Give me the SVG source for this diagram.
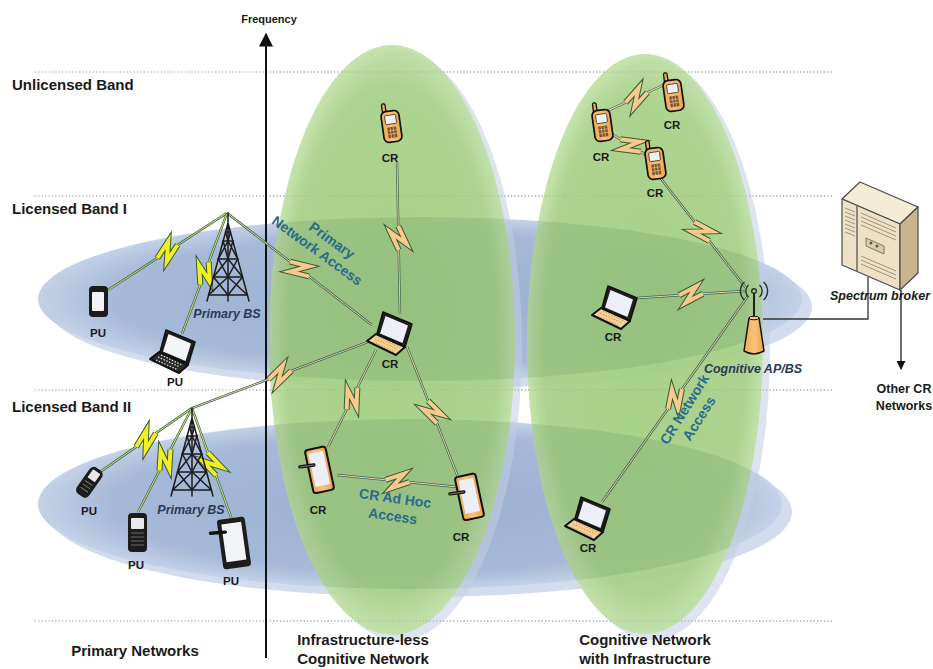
<svg xmlns="http://www.w3.org/2000/svg" xmlns:xlink="http://www.w3.org/1999/xlink" width="933" height="669" viewBox="0 0 933 669">
  <style>
    .lbl{font-family:"Liberation Sans",Arial,sans-serif;font-weight:bold;fill:#1a1a1a}
    .band{font-size:15px}
    .dev{font-size:11.5px;text-anchor:middle}
    .acc{font-size:14px;fill:#2b6a8e;text-anchor:middle}
    .ital{font-style:italic;font-size:12.5px;fill:#2b3a55}
    .foot{font-size:15px;text-anchor:middle}
    .dots{stroke:#a8a8a8;stroke-width:1.3;stroke-dasharray:1 2.4;fill:none}
    .w-out{fill:none;stroke:#3a6452;stroke-width:2.4;stroke-linejoin:miter}
    .w-y{fill:none;stroke:#e4ee6a;stroke-width:0.9;stroke-linejoin:miter}
    .w-c{fill:none;stroke:#f7d9a8;stroke-width:0.9;stroke-linejoin:miter}
    .b-out{fill:none;stroke:#3a5a3a;stroke-width:6;stroke-linejoin:miter;stroke-miterlimit:6}
    .b-y{fill:none;stroke:#f0f020;stroke-width:4;stroke-linejoin:miter;stroke-miterlimit:6}
    .b-c{fill:none;stroke:#f8c98c;stroke-width:4;stroke-linejoin:miter;stroke-miterlimit:6}
    .ink{stroke:#111;stroke-linejoin:round}
  </style>
  <defs>
    <radialGradient id="blueFill" cx="0.5" cy="0.5" r="0.5">
      <stop offset="0" stop-color="#9aafd2"/>
      <stop offset="0.8" stop-color="#a6b9d8"/>
      <stop offset="1" stop-color="#c4d1e7"/>
    </radialGradient>
    <radialGradient id="greenFill" cx="0.5" cy="0.5" r="0.5">
      <stop offset="0" stop-color="#a2cf7e"/>
      <stop offset="0.86" stop-color="#a7d285"/>
      <stop offset="1" stop-color="#bfe0a4"/>
    </radialGradient>
    <linearGradient id="orange" x1="0" y1="0" x2="1" y2="0">
      <stop offset="0" stop-color="#f3a94e"/>
      <stop offset="0.5" stop-color="#f9c37a"/>
      <stop offset="1" stop-color="#f0a245"/>
    </linearGradient>
    <clipPath id="greenClip">
      <ellipse cx="392" cy="340" rx="123" ry="295"/>
      <ellipse cx="645" cy="344" rx="118" ry="290"/>
    </clipPath>
    <marker id="arrow" viewBox="0 0 10 10" refX="9" refY="5" markerWidth="7" markerHeight="7" orient="auto">
      <path d="M0,0 L10,5 L0,10 Z" fill="#111"/>
    </marker>

    <!-- lightning bolts placed at link midpoints -->
    <g id="bolt-y"><path class="b-out" d="M-12,0 L6,-8 L-6,8 L12,0"/><path class="b-y" d="M-12,0 L6,-8 L-6,8 L12,0"/></g>
    <g id="bolt-c"><path class="b-out" d="M-12,0 L6,-8 L-6,8 L12,0"/><path class="b-c" d="M-12,0 L6,-8 L-6,8 L12,0"/></g>

    <!-- lattice tower, apex at origin -->
    <g id="tower" fill="none" stroke="#1b1b1b" stroke-width="1.5" stroke-linecap="round">
      <path d="M0,0 V12 M0,10 L-21,88 M0,10 L21,88 M0,10 V88"/>
      <path d="M-4.85,28 H4.85 M-9.7,46 H9.7 M-14.5,64 H14.5 M-19.4,82 H19.4"/>
      <path d="M-4.85,28 L0,46 M0,28 L-9.7,46 M4.85,28 L0,46 M0,28 L9.7,46"/>
      <path d="M-9.7,46 L0,64 M0,46 L-14.5,64 M9.7,46 L0,64 M0,46 L14.5,64"/>
      <path d="M-14.5,64 L0,82 M0,64 L-19.4,82 M14.5,64 L0,82 M0,64 L19.4,82"/>
      <path d="M-2.4,19 H2.4 M-2.4,19 L0,28 M2.4,19 L0,28"/>
    </g>

    <!-- cognitive radio laptop -->
    <g id="laptopCR">
      <path class="ink" d="M16,1 L45,13 L38,36 L10,23 Z" fill="#1e1e1e" stroke-width="1.6"/>
      <path d="M18.5,5 L41,14.5 L35.5,32 L13,22.5 Z" fill="#eceef8"/>
      <path class="ink" d="M9,23 L38,36 L29,44 L0,30 Z" fill="#f6cf93" stroke-width="2"/>
      <path d="M8,28 L30,38 M6,31 L27,40.5 M11,26 L32,36" stroke="#c99a5a" stroke-width="1" stroke-dasharray="1.5 1.5"/>
    </g>
    <!-- primary user laptop -->
    <g id="laptopPU">
      <path class="ink" d="M16,1 L45,13 L38,36 L10,23 Z" fill="#1e1e1e" stroke-width="1.6"/>
      <path d="M18.5,5 L41,14.5 L35.5,32 L13,22.5 Z" fill="#f4f5f8"/>
      <path class="ink" d="M9,23 L38,36 L29,44 L0,30 Z" fill="#2a2a2a" stroke-width="2"/>
      <path d="M8,28 L30,38 M6,31 L27,40.5 M11,26 L32,36" stroke="#e8e8e8" stroke-width="1.2" stroke-dasharray="1.5 1.5"/>
    </g>
    <!-- cognitive radio handset -->
    <g id="phoneCR">
      <rect class="ink" x="3" y="0" width="3.6" height="11" rx="1.5" fill="#f0ab55" stroke-width="1.3"/>
      <rect class="ink" x="1" y="8" width="18" height="31" rx="5" fill="url(#orange)" stroke-width="1.7"/>
      <rect x="4.5" y="12" width="11" height="9" rx="1" fill="#eef0f6" stroke="#333" stroke-width="0.8"/>
      <rect x="5.5" y="24" width="9" height="11" rx="1" fill="#7a5530"/>
      <path d="M5.5,27.5 H14.5 M5.5,31 H14.5 M8.5,24 V35 M11.5,24 V35" stroke="#e9b77a" stroke-width="0.7"/>
    </g>
    <!-- cognitive radio tablet with stylus -->
    <g id="tabletCR">
      <rect class="ink" x="9" y="0" width="21" height="44" rx="3" fill="url(#orange)" stroke-width="2"/>
      <rect x="12" y="4" width="15" height="34" fill="#eceef8"/>
      <path d="M1,15 L15,16" stroke="#111" stroke-width="3.4" stroke-linecap="round"/>
      <path d="M1,15 L15,16" stroke="#777" stroke-width="1" stroke-linecap="round"/>
    </g>
  </defs>

  <!-- band separators -->
  <g id="bands">
    <path class="dots" d="M35,72 H833 M35,196 H833 M35,390 H833 M35,621 H833"/>
  </g>

  <!-- licensed band coverage areas -->
  <g id="coverage-band1">
    <ellipse cx="430" cy="307" rx="382" ry="82" fill="#d2dcec"/>
    <ellipse cx="420" cy="299" rx="382" ry="82" fill="url(#blueFill)"/>
  </g>
  <g id="coverage-band2">
    <ellipse cx="420" cy="512" rx="372" ry="85" fill="#d2dcec"/>
    <ellipse cx="410" cy="504" rx="372" ry="85" fill="url(#blueFill)"/>
  </g>

  <!-- cognitive network areas -->
  <g id="area-adhoc">
    <ellipse cx="399" cy="346" rx="123" ry="295" fill="#c3cde2" opacity="0.55"/>
    <ellipse cx="392" cy="340" rx="123" ry="295" fill="url(#greenFill)" opacity="0.9"/>
  </g>
  <g id="area-infra">
    <ellipse cx="652" cy="350" rx="118" ry="290" fill="#c3cde2" opacity="0.55"/>
    <ellipse cx="645" cy="344" rx="118" ry="290" fill="url(#greenFill)" opacity="0.9"/>
  </g>
  <g clip-path="url(#greenClip)" opacity="0.11">
    <ellipse cx="420" cy="299" rx="382" ry="82" fill="#2f5f35"/>
    <ellipse cx="410" cy="504" rx="372" ry="85" fill="#2f5f35"/>
  </g>
  <path class="dots" d="M270,72 H833 M270,196 H833 M270,390 H833 M270,621 H833" opacity="0.55"/>

  <!-- frequency axis -->
  <g id="axis">
    <line x1="266" y1="658" x2="266" y2="34" stroke="#111" stroke-width="2" marker-end="url(#arrow)"/>
    <text class="lbl" x="269" y="23" font-size="11" text-anchor="middle">Frequency</text>
  </g>

  <!-- wireless links -->
  <g id="connectors">
    <!-- band I primary BS -->
    <g transform="translate(167.5,251.5) rotate(-32.9)"><path class="w-out" d="M-70.9,0 L-12,0 L6,-8 L-6,8 L12,0 L70.9,0"/><path class="w-y" d="M-70.9,0 L-12,0 L6,-8 L-6,8 L12,0 L70.9,0"/><use href="#bolt-y"/></g>
    <g transform="translate(204.5,273.5) rotate(-69.6)"><path class="w-out" d="M-64.5,0 L-12,0 L6,-8 L-6,8 L12,0 L64.5,0"/><path class="w-y" d="M-64.5,0 L-12,0 L6,-8 L-6,8 L12,0 L64.5,0"/><use href="#bolt-y"/></g>
    <g transform="translate(299.5,269) rotate(37.7)"><path class="w-out" d="M-91.6,0 L-12,0 L6,-8 L-6,8 L12,0 L91.6,0"/><path class="w-c" d="M-91.6,0 L-12,0 L6,-8 L-6,8 L12,0 L91.6,0"/><use href="#bolt-c"/></g>
    <!-- ad hoc cognitive network -->
    <g transform="translate(398.5,238) rotate(88.9)"><path class="w-out" d="M-76,0 L-12,0 L6,-8 L-6,8 L12,0 L76,0"/><path class="w-c" d="M-76,0 L-12,0 L6,-8 L-6,8 L12,0 L76,0"/><use href="#bolt-c"/></g>
    <g transform="translate(280,375) rotate(159.4)"><path class="w-out" d="M-94,0 L-12,0 L6,-8 L-6,8 L12,0 L94,0"/><path class="w-c" d="M-94,0 L-12,0 L6,-8 L-6,8 L12,0 L94,0"/><use href="#bolt-c"/></g>
    <g transform="translate(352,398.5) rotate(116.3)"><path class="w-out" d="M-54.1,0 L-12,0 L6,-8 L-6,8 L12,0 L54.1,0"/><path class="w-c" d="M-54.1,0 L-12,0 L6,-8 L-6,8 L12,0 L54.1,0"/><use href="#bolt-c"/></g>
    <g transform="translate(432.5,412) rotate(68.6)"><path class="w-out" d="M-69.8,0 L-12,0 L6,-8 L-6,8 L12,0 L69.8,0"/><path class="w-c" d="M-69.8,0 L-12,0 L6,-8 L-6,8 L12,0 L69.8,0"/><use href="#bolt-c"/></g>
    <g transform="translate(397.5,481) rotate(5.7)"><path class="w-out" d="M-60.8,0 L-12,0 L6,-8 L-6,8 L12,0 L60.8,0"/><path class="w-c" d="M-60.8,0 L-12,0 L6,-8 L-6,8 L12,0 L60.8,0"/><use href="#bolt-c"/></g>
    <!-- infrastructure cognitive network -->
    <g transform="translate(636.5,97.5) rotate(-24.7)"><path class="w-out" d="M-34.7,0 L-12,0 L6,-8 L-6,8 L12,0 L34.7,0"/><path class="w-c" d="M-34.7,0 L-12,0 L6,-8 L-6,8 L12,0 L34.7,0"/><use href="#bolt-c"/></g>
    <g transform="translate(630.5,145.5) rotate(31.4)"><path class="w-out" d="M-24,0 L-12,0 L6,-8 L-6,8 L12,0 L24,0"/><path class="w-c" d="M-24,0 L-12,0 L6,-8 L-6,8 L12,0 L24,0"/><use href="#bolt-c"/></g>
    <g transform="translate(702,231.5) rotate(52.1)"><path class="w-out" d="M-71.6,0 L-12,0 L6,-8 L-6,8 L12,0 L71.6,0"/><path class="w-c" d="M-71.6,0 L-12,0 L6,-8 L-6,8 L12,0 L71.6,0"/><use href="#bolt-c"/></g>
    <g transform="translate(691,294.5) rotate(-3.7)"><path class="w-out" d="M-54.1,0 L-12,0 L6,-8 L-6,8 L12,0 L54.1,0"/><path class="w-c" d="M-54.1,0 L-12,0 L6,-8 L-6,8 L12,0 L54.1,0"/><use href="#bolt-c"/></g>
    <g transform="translate(675,399) rotate(-54.7)"><path class="w-out" d="M-126.2,0 L-12,0 L6,-8 L-6,8 L12,0 L126.2,0"/><path class="w-c" d="M-126.2,0 L-12,0 L6,-8 L-6,8 L12,0 L126.2,0"/><use href="#bolt-c"/></g>
    <!-- band II primary BS -->
    <g transform="translate(146,440) rotate(-34.8)"><path class="w-out" d="M-56,0 L-12,0 L6,-8 L-6,8 L12,0 L56,0"/><path class="w-y" d="M-56,0 L-12,0 L6,-8 L-6,8 L12,0 L56,0"/><use href="#bolt-y"/></g>
    <g transform="translate(165,460) rotate(-62.6)"><path class="w-out" d="M-58.6,0 L-12,0 L6,-8 L-6,8 L12,0 L58.6,0"/><path class="w-y" d="M-58.6,0 L-12,0 L6,-8 L-6,8 L12,0 L58.6,0"/><use href="#bolt-y"/></g>
    <g transform="translate(212,464) rotate(-109.7)"><path class="w-out" d="M-59.5,0 L-12,0 L6,-8 L-6,8 L12,0 L59.5,0"/><path class="w-y" d="M-59.5,0 L-12,0 L6,-8 L-6,8 L12,0 L59.5,0"/><use href="#bolt-y"/></g>
    <!-- wired backhaul to spectrum broker -->
    <path d="M763,319 H868 V277" fill="none" stroke="#333" stroke-width="1.3"/>
    <path d="M901,290 V369" fill="none" stroke="#222" stroke-width="1.3" marker-end="url(#arrow)"/>
  </g>

  <!-- band labels -->
  <g id="band-labels">
    <text class="lbl band" x="12" y="90">Unlicensed Band</text>
    <text class="lbl band" x="12" y="214">Licensed Band I</text>
    <text class="lbl band" x="12" y="412">Licensed Band II</text>
  </g>

  <!-- primary network, band I -->
  <g id="primary-bs-1">
    <use href="#tower" x="228" y="213"/>
    <text class="lbl ital" x="227" y="318" text-anchor="middle">Primary BS</text>
  </g>
  <g id="pu-handheld-1">
    <rect x="89" y="286" width="19" height="31" rx="4" fill="#1c1c1c"/>
    <rect x="92" y="292" width="12" height="19" rx="1" fill="#f2f3f6"/>
    <text class="lbl dev" x="98" y="337">PU</text>
  </g>
  <g id="pu-laptop">
    <use href="#laptopPU" x="150" y="329"/>
    <text class="lbl dev" x="175" y="386">PU</text>
  </g>

  <!-- primary network, band II -->
  <g id="primary-bs-2">
    <use href="#tower" x="192" y="408"/>
    <text class="lbl ital" x="191" y="514" text-anchor="middle">Primary BS</text>
  </g>
  <g id="pu-flip-phone">
    <g transform="rotate(35 89 482)">
      <rect x="82" y="466" width="15" height="32" rx="5" fill="#1c1c1c"/>
      <rect x="85" y="469" width="9" height="10" rx="1" fill="#e6e8ee"/>
      <path d="M85,483 H94 M85,487 H94 M85,491 H94" stroke="#777" stroke-width="1"/>
    </g>
    <text class="lbl dev" x="89" y="515">PU</text>
  </g>
  <g id="pu-phone">
    <rect x="128" y="513" width="19" height="39" rx="4" fill="#1c1c1c"/>
    <rect x="131" y="518" width="13" height="11" rx="1" fill="#e6e8ee"/>
    <path d="M131,533 H144 M131,537 H144 M131,541 H144 M131,545 H144" stroke="#6a6a6a" stroke-width="1"/>
    <text class="lbl dev" x="136" y="569">PU</text>
  </g>
  <g id="pu-tablet">
    <g transform="rotate(-8 234 543)">
      <rect x="220" y="518" width="28" height="50" rx="3" fill="#1c1c1c"/>
      <rect x="224" y="523" width="20" height="38" fill="#f2f3f6"/>
      <path d="M212,530 L227,531" stroke="#111" stroke-width="3.4" stroke-linecap="round"/>
    </g>
    <text class="lbl dev" x="231" y="585">PU</text>
  </g>

  <!-- infrastructure-less cognitive network -->
  <g id="cr-phone-adhoc">
    <use href="#phoneCR" transform="translate(381,103) rotate(-8 10 20)"/>
    <text class="lbl dev" x="390" y="162">CR</text>
  </g>
  <g id="cr-laptop-adhoc">
    <use href="#laptopCR" x="367" y="311"/>
    <text class="lbl dev" x="390" y="368">CR</text>
  </g>
  <g id="cr-tablet-left">
    <use href="#tabletCR" transform="translate(300,448) rotate(-12 19 22)"/>
    <text class="lbl dev" x="318" y="514">CR</text>
  </g>
  <g id="cr-tablet-right">
    <use href="#tabletCR" transform="translate(450,475) rotate(-12 19 22)"/>
    <text class="lbl dev" x="461" y="541">CR</text>
  </g>

  <!-- cognitive network with infrastructure -->
  <g id="cr-phone-a">
    <use href="#phoneCR" transform="translate(663,72) rotate(-8 10 20)"/>
    <text class="lbl dev" x="672" y="129">CR</text>
  </g>
  <g id="cr-phone-b">
    <use href="#phoneCR" transform="translate(592,102) rotate(-8 10 20)"/>
    <text class="lbl dev" x="601" y="161">CR</text>
  </g>
  <g id="cr-phone-c">
    <use href="#phoneCR" transform="translate(645,140) rotate(-8 10 20)"/>
    <text class="lbl dev" x="655" y="197">CR</text>
  </g>
  <g id="cr-laptop-mid">
    <use href="#laptopCR" x="592" y="285"/>
    <text class="lbl dev" x="613" y="341">CR</text>
  </g>
  <g id="cr-laptop-low">
    <use href="#laptopCR" x="565" y="496"/>
    <text class="lbl dev" x="588" y="552">CR</text>
  </g>
  <g id="cognitive-ap">
    <g fill="none" stroke="#1f3a22" stroke-width="1.4">
      <circle cx="754" cy="291" r="2.3"/>
      <path d="M748.5,285 A8,8 0 0 0 748.5,297 M744.5,282 A12,12 0 0 0 744.5,300"/>
      <path d="M759.5,285 A8,8 0 0 1 759.5,297 M763.5,282 A12,12 0 0 1 763.5,300"/>
      <path d="M754,293.5 V318" stroke="#111" stroke-width="1.8"/>
    </g>
    <path class="ink" d="M749,318 L759,318 L764,351 Q754,357 744,351 Z" fill="url(#orange)" stroke-width="1.5"/>
    <ellipse cx="754" cy="318" rx="5" ry="1.8" fill="#f8c98a" stroke="#111" stroke-width="1"/>
    <text class="lbl ital" x="753" y="373" text-anchor="middle">Cognitive AP/BS</text>
  </g>

  <!-- spectrum broker server -->
  <g id="spectrum-broker">
    <g stroke="#4a4a4a" stroke-width="1.2" stroke-linejoin="round">
      <path d="M842,199 L860,182 L918,207 L900,224 Z" fill="#f5ecd6"/>
      <path d="M842,199 L900,224 L900,290 L842,265 Z" fill="#ede2c6"/>
      <path d="M900,224 L918,207 L918,273 L900,290 Z" fill="#c8b58e"/>
      <path d="M857,206 L857,271" fill="none"/>
    </g>
    <g stroke="#8a7f6a" stroke-width="0.8" fill="none">
      <path d="M845,208 L855,212 M845,212 L855,216 M845,216 L855,220 M845,220 L855,224 M845,224 L855,228 M845,228 L855,232 M845,232 L855,236"/>
      <path d="M861,213 L896,228 M861,217 L896,232 M861,221 L896,236 M861,225 L896,240"/>
      <path d="M861,256 L896,271 M861,260 L896,275 M861,264 L896,279"/>
    </g>
    <path d="M866,238 L884,246 L884,254 L866,246 Z" fill="#d9ccab" stroke="#6a604e" stroke-width="0.8"/>
    <circle cx="871" cy="243" r="1.5" fill="#555"/>
    <circle cx="877" cy="246" r="1.5" fill="#555"/>
    <text class="lbl" x="880" y="300" font-size="12.5" font-style="italic" text-anchor="middle">Spectrum broker</text>
  </g>
  <g id="other-networks">
    <text class="lbl" x="904" y="393" font-size="12.5" text-anchor="middle">Other CR</text>
    <text class="lbl" x="904" y="410" font-size="12.5" text-anchor="middle">Networks</text>
  </g>

  <!-- access labels -->
  <g id="access-labels">
    <g transform="translate(322,244) rotate(36)">
      <text class="lbl acc" x="6" y="-4">Primary</text>
      <text class="lbl acc" x="0" y="13">Network Access</text>
    </g>
    <g transform="translate(394,507) rotate(8)">
      <text class="lbl acc" x="0" y="-4">CR Ad Hoc</text>
      <text class="lbl acc" x="0" y="14">Access</text>
    </g>
    <g transform="translate(692,414) rotate(-58)">
      <text class="lbl acc" x="0" y="-4">CR Network</text>
      <text class="lbl acc" x="0" y="13">Access</text>
    </g>
  </g>

  <!-- column captions -->
  <g id="captions">
    <text class="lbl foot" x="135" y="656">Primary Networks</text>
    <text class="lbl foot" x="363" y="645">Infrastructure-less</text>
    <text class="lbl foot" x="363" y="664">Cognitive Network</text>
    <text class="lbl foot" x="645" y="645">Cognitive Network</text>
    <text class="lbl foot" x="645" y="664">with Infrastructure</text>
  </g>
</svg>
